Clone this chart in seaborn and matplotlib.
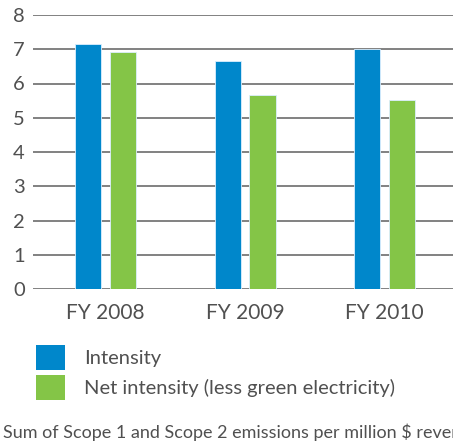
import pandas as pd
import matplotlib.pyplot as plt
import seaborn as sns
from matplotlib.patches import Patch

# data
years = ["FY 2008", "FY 2009", "FY 2010"]
intensity = [7.14, 6.66, 7.0]
net_intensity = [6.92, 5.65, 5.53]
series_names = ["Intensity", "Net intensity (less green electricity)"]
colors = ["#0087CB", "#84C547"]
yticks = [0, 1, 2, 3, 4, 5, 6, 7, 8]
footer = "Sum of Scope 1 and Scope 2 emissions per million $ revenue"

df = pd.DataFrame({
    "year": years * 2,
    "series": [series_names[0]] * 3 + [series_names[1]] * 3,
    "value": intensity + net_intensity,
})

sns.set_style("white")
plt.rcParams["font.family"] = ["Lato", "DejaVu Sans"]
text_color = "#505050"

fig = plt.figure(figsize=(4.53, 4.46), dpi=100)
ax = fig.add_axes([33 / 453, 157 / 446, 420 / 453, 274 / 446])

sns.barplot(data=df, x="year", y="value", hue="series", palette=colors,
            saturation=1, width=0.5, gap=0.25, ax=ax, legend=False,
            edgecolor="#dcefff", linewidth=0.6, zorder=3)

ax.set_xlim(-0.52, 2.49)
ax.set_ylim(0, 8)
ax.set_yticks(yticks)
ax.yaxis.grid(True, color="#777777", linewidth=1.3, zorder=0)
ax.set_axisbelow(True)
for s in ax.spines.values():
    s.set_visible(False)
ax.set_xlabel("")
ax.set_ylabel("")
ax.tick_params(axis="y", length=0, pad=6, labelsize=14.5, labelcolor=text_color)
ax.tick_params(axis="x", length=0, pad=10, labelsize=15, labelcolor=text_color)

handles = [Patch(facecolor=c, edgecolor="none") for c in colors]
leg = fig.legend(handles, series_names, loc="upper left",
                 bbox_to_anchor=(18 / 453, 1 - 327 / 446), frameon=False,
                 fontsize=14.5, handlelength=1.45, handleheight=1.55,
                 handletextpad=0.95, labelspacing=0.22)
for t in leg.get_texts():
    t.set_color(text_color)

fig.text(3 / 453, 1 - 432 / 446, footer, fontsize=13, color=text_color,
         va="center", ha="left")

fig.savefig("out.png", dpi=100)
